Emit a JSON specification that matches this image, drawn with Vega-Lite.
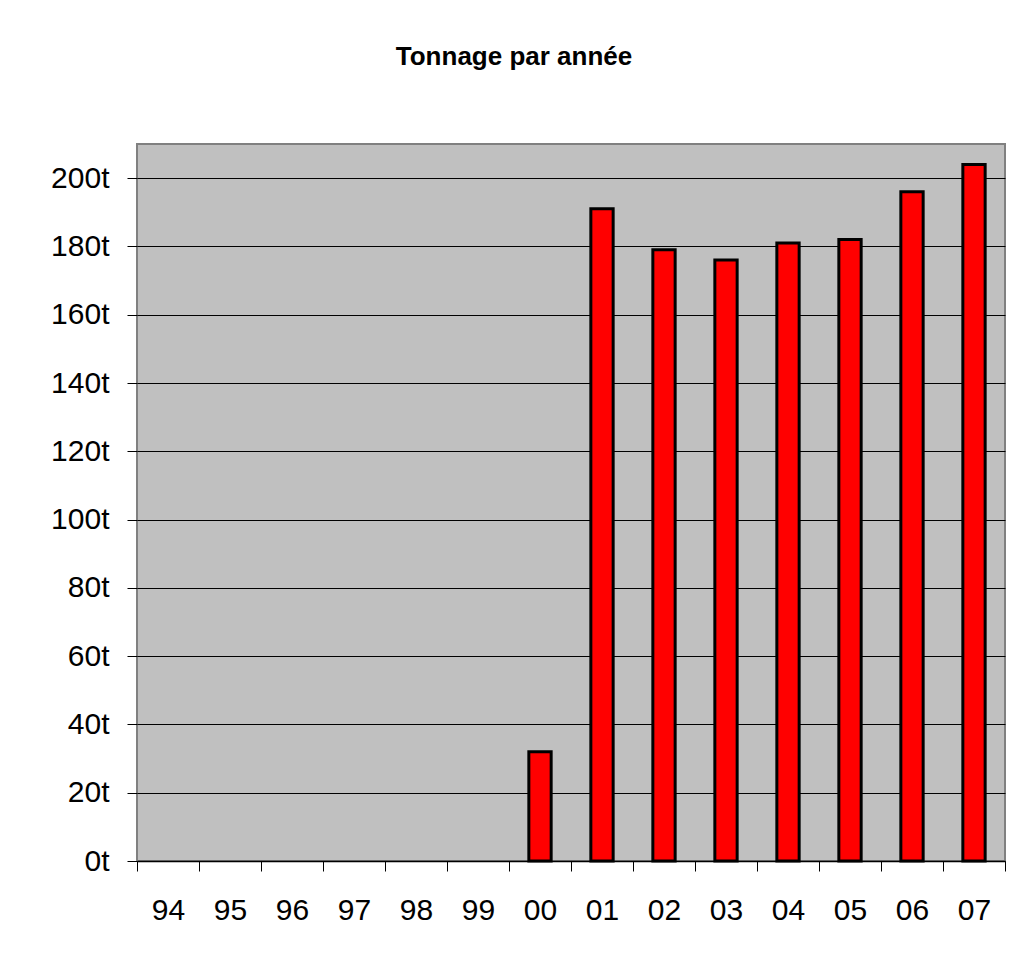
{
  "$schema": "https://vega.github.io/schema/vega-lite/v6.json",
  "width": 868,
  "height": 717,
  "autosize": {"type": "none"},
  "padding": {"left": 137, "top": 144, "right": 20, "bottom": 92},
  "background": "#ffffff",
  "title": {
    "text": "Tonnage par année",
    "font": "Liberation Sans",
    "fontSize": 26,
    "fontWeight": "bold",
    "color": "#000000",
    "anchor": "middle",
    "frame": "group",
    "baseline": "alphabetic",
    "offset": 53,
    "dx": -57
  },
  "data": {
    "values": [
      {"annee": "94", "tonnage": null},
      {"annee": "95", "tonnage": null},
      {"annee": "96", "tonnage": null},
      {"annee": "97", "tonnage": null},
      {"annee": "98", "tonnage": null},
      {"annee": "99", "tonnage": null},
      {"annee": "00", "tonnage": 32},
      {"annee": "01", "tonnage": 191},
      {"annee": "02", "tonnage": 179},
      {"annee": "03", "tonnage": 176},
      {"annee": "04", "tonnage": 181},
      {"annee": "05", "tonnage": 182},
      {"annee": "06", "tonnage": 196},
      {"annee": "07", "tonnage": 204}
    ]
  },
  "mark": {
    "type": "bar",
    "fill": "#FF0000",
    "stroke": "#000000",
    "strokeWidth": 3,
    "width": {"band": 0.36}
  },
  "encoding": {
    "x": {
      "field": "annee",
      "type": "ordinal",
      "sort": null,
      "scale": {
        "domain": ["94", "95", "96", "97", "98", "99", "00", "01", "02", "03", "04", "05", "06", "07"],
        "paddingInner": 0,
        "paddingOuter": 0
      },
      "axis": {
        "title": null,
        "labelAngle": 0,
        "labelFont": "Liberation Sans",
        "labelFontSize": 30,
        "labelColor": "#000000",
        "labelPadding": 24,
        "tickBand": "extent",
        "tickSize": 10,
        "tickColor": "#000000",
        "tickWidth": 1,
        "domainColor": "#000000",
        "domainWidth": 1.5,
        "grid": false
      }
    },
    "y": {
      "field": "tonnage",
      "type": "quantitative",
      "scale": {"domain": [0, 210], "nice": false},
      "axis": {
        "title": null,
        "values": [0, 20, 40, 60, 80, 100, 120, 140, 160, 180, 200],
        "labelExpr": "datum.value + 't'",
        "labelFont": "Liberation Sans",
        "labelFontSize": 30,
        "labelColor": "#000000",
        "labelPadding": 18,
        "tickSize": 10,
        "tickColor": "#000000",
        "tickWidth": 1,
        "domain": false,
        "grid": true,
        "gridColor": "#000000",
        "gridWidth": 1,
        "gridOpacity": 1
      }
    }
  },
  "config": {
    "view": {"fill": "#C0C0C0", "stroke": "#808080", "strokeWidth": 2}
  }
}
